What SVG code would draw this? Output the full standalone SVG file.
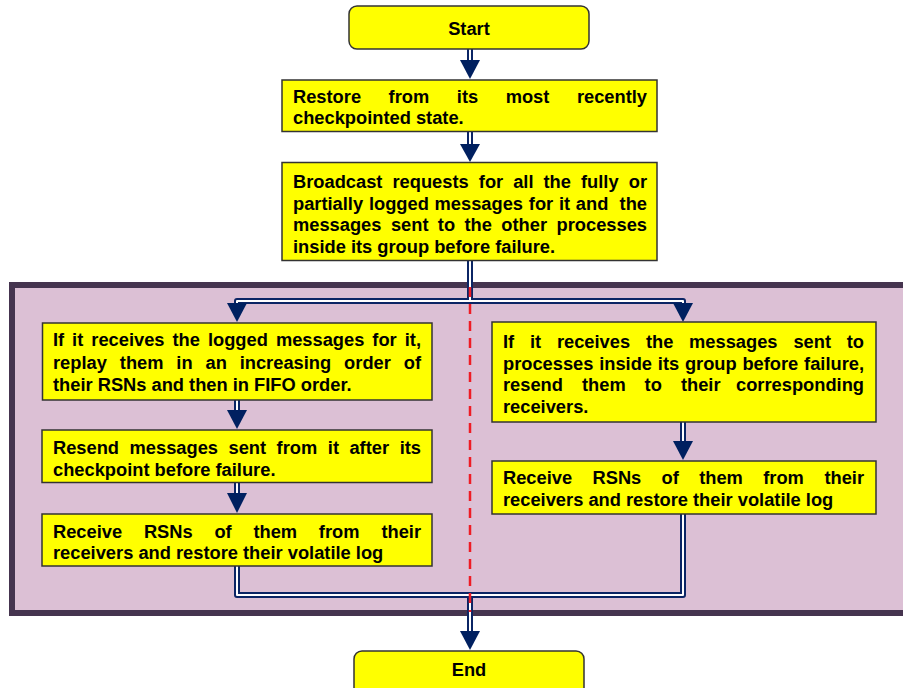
<svg xmlns="http://www.w3.org/2000/svg" width="903" height="688" viewBox="0 0 903 688">
<defs>
<style>
.box{fill:#ffff00;stroke:#333;stroke-width:1.5}
.t{font-family:"Liberation Sans",Arial,sans-serif;font-weight:bold;font-size:18.3px;fill:#000}
.e{text-anchor:end}
.c{text-anchor:middle}
.o{fill:none;stroke:#0b2565;stroke-width:6;stroke-linejoin:round;stroke-linecap:butt}
.i{fill:none;stroke:#fff;stroke-width:2;stroke-linejoin:round;stroke-linecap:butt}
.ah{fill:#002060}
</style>
</defs>
<rect width="903" height="688" fill="#fff"/>
<g id="panel">
<rect x="12" y="285" width="900" height="328" fill="#dcc0d5" stroke="#45344f" stroke-width="6"/>
</g>
<g id="connectors">
<path class="o" d="M470 49 V61 M470 131.5 V145 M470 260.5 V301 M237 305 V301 H683 V305 M237 400 V411 M237 482.5 V494 M683 422 V442 M237 566 V595 H683 V514 M470 595 V632"/>
<path class="i" d="M470 49 V61 M470 131.5 V145 M470 260.5 V301 M237 305 V301 H683 V305 M237 400 V411 M237 482.5 V494 M683 422 V442 M237 566 V595 H683 V514 M470 595 V632"/>
<polygon class="ah" points="460,60 480,60 470,79"/>
<polygon class="ah" points="460,144 480,144 470,162"/>
<polygon class="ah" points="227,303 247,303 237,322"/>
<polygon class="ah" points="673,303 693,303 683,322"/>
<polygon class="ah" points="227,410 247,410 237,429"/>
<polygon class="ah" points="227,493 247,493 237,513"/>
<polygon class="ah" points="673,441 693,441 683,460"/>
<polygon class="ah" points="460,631 480,631 470,650"/>
</g>
<g id="divider">
<path d="M470 287 V612" fill="none" stroke="#ee1c25" stroke-width="2.5" stroke-dasharray="10 7"/>
</g>
<g id="start">
<rect class="box" x="349" y="6" width="240" height="43" rx="8"/>
<text class="t c" x="469" y="35">Start</text>
</g>
<g id="restore">
<rect class="box" x="282" y="80" width="375" height="51.5"/>
<text class="t"><tspan x="293" y="103">Restore</tspan><tspan x="388.6" y="103">from</tspan><tspan x="456.8" y="103">its</tspan><tspan x="505.7" y="103">most</tspan><tspan x="293" y="124">checkpointed state.</tspan></text>
<text class="t e" x="647" y="103">recently</text>
</g>
<g id="broadcast">
<rect class="box" x="282" y="162.5" width="375" height="98"/>
<text class="t"><tspan x="293" y="188">Broadcast</tspan><tspan x="392.5" y="188">requests</tspan><tspan x="478.8" y="188">for</tspan><tspan x="513.2" y="188">all</tspan><tspan x="543.5" y="188">the</tspan><tspan x="581" y="188">fully</tspan><tspan x="293" y="209.5">partially</tspan><tspan x="368.9" y="209.5">logged</tspan><tspan x="434.6" y="209.5">messages</tspan><tspan x="528.8" y="209.5">for</tspan><tspan x="558.9" y="209.5">it</tspan><tspan x="575.8" y="209.5">and</tspan><tspan x="293" y="231">messages</tspan><tspan x="390.9" y="231">sent</tspan><tspan x="437.8" y="231">to</tspan><tspan x="464.5" y="231">the</tspan><tspan x="501.3" y="231">other</tspan><tspan x="293" y="252.5">inside its group before failure.</tspan></text>
<text class="t e"><tspan x="647" y="188">or</tspan><tspan x="647" y="209.5">the</tspan><tspan x="647" y="231">processes</tspan></text>
</g>
<g id="replay">
<rect class="box" x="42.5" y="323" width="389.5" height="77"/>
<text class="t"><tspan x="53" y="346">If</tspan><tspan x="72.1" y="346">it</tspan><tspan x="91.3" y="346">receives</tspan><tspan x="172.5" y="346">the</tspan><tspan x="207.9" y="346">logged</tspan><tspan x="275.9" y="346">messages</tspan><tspan x="372.3" y="346">for</tspan><tspan x="53" y="368.5">replay</tspan><tspan x="119.8" y="368.5">them</tspan><tspan x="176.3" y="368.5">in</tspan><tspan x="205.5" y="368.5">an</tspan><tspan x="239.7" y="368.5">increasing</tspan><tspan x="344.1" y="368.5">order</tspan><tspan x="53" y="391">their RSNs and then in FIFO order.</tspan></text>
<text class="t e"><tspan x="421" y="346">it,</tspan><tspan x="421" y="368.5">of</tspan></text>
</g>
<g id="resend-own">
<rect class="box" x="42" y="430" width="390" height="52.5"/>
<text class="t"><tspan x="53" y="454">Resend</tspan><tspan x="129.6" y="454">messages</tspan><tspan x="228.5" y="454">sent</tspan><tspan x="276.6" y="454">from</tspan><tspan x="327.8" y="454">it</tspan><tspan x="349.4" y="454">after</tspan><tspan x="53" y="475.5">checkpoint before failure.</tspan></text>
<text class="t e" x="421" y="454">its</text>
</g>
<g id="receive-left">
<rect class="box" x="42" y="514" width="390" height="52"/>
<text class="t"><tspan x="53" y="537.5">Receive</tspan><tspan x="143.9" y="537.5">RSNs</tspan><tspan x="214.4" y="537.5">of</tspan><tspan x="253.4" y="537.5">them</tspan><tspan x="318.8" y="537.5">from</tspan><tspan x="53" y="559">receivers and restore their volatile log</tspan></text>
<text class="t e" x="421" y="537.5">their</text>
</g>
<g id="resend-group">
<rect class="box" x="492" y="322" width="384" height="100"/>
<text class="t"><tspan x="503" y="348">If</tspan><tspan x="529.9" y="348">it</tspan><tspan x="556.9" y="348">receives</tspan><tspan x="645.9" y="348">the</tspan><tspan x="689.1" y="348">messages</tspan><tspan x="793.4" y="348">sent</tspan><tspan x="503" y="369.5">processes</tspan><tspan x="599.2" y="369.5">inside</tspan><tspan x="657.8" y="369.5">its</tspan><tspan x="684.9" y="369.5">group</tspan><tspan x="742.4" y="369.5">before</tspan><tspan x="503" y="391">resend</tspan><tspan x="582" y="391">them</tspan><tspan x="644.6" y="391">to</tspan><tspan x="680.9" y="391">their</tspan><tspan x="503" y="412.5">receivers.</tspan></text>
<text class="t e"><tspan x="864" y="348">to</tspan><tspan x="864" y="369.5">failure,</tspan><tspan x="864" y="391">corresponding</tspan></text>
</g>
<g id="receive-right">
<rect class="box" x="492" y="461" width="384" height="53"/>
<text class="t"><tspan x="503" y="484">Receive</tspan><tspan x="592.5" y="484">RSNs</tspan><tspan x="661.6" y="484">of</tspan><tspan x="699.2" y="484">them</tspan><tspan x="763.2" y="484">from</tspan><tspan x="503" y="505.5">receivers and restore their volatile log</tspan></text>
<text class="t e" x="864" y="484">their</text>
</g>
<g id="end">
<rect class="box" x="354" y="651" width="230" height="45" rx="8"/>
<text class="t c" x="469" y="676">End</text>
</g>
</svg>
